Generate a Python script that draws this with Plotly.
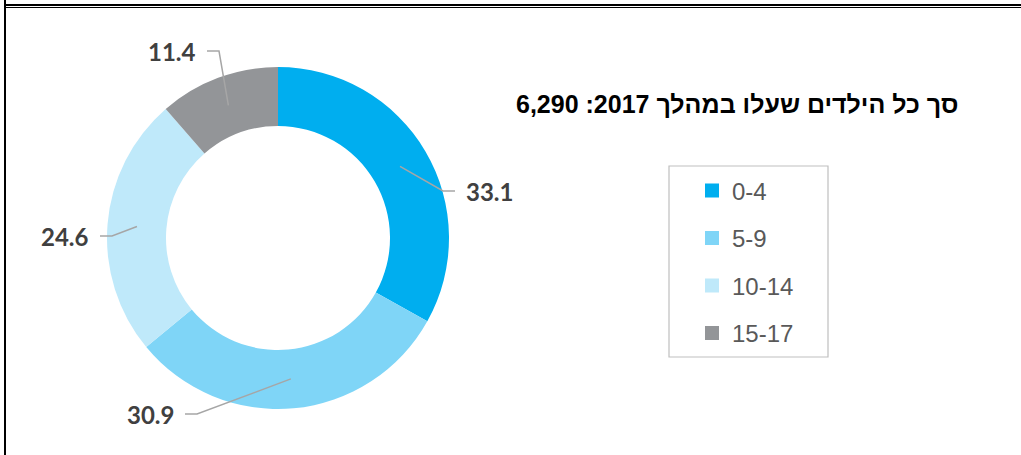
import math
import plotly.graph_objects as go

# ---------------- data ----------------
categories = ["0-4", "5-9", "10-14", "15-17"]
values = [33.1, 30.9, 24.6, 11.4]
title_text = "סך כל הילדים שעלו במהלך 2017: 6,290"

# ---------------- style / layout ----------------
colors = ["#00AEEF", "#7FD5F7", "#BFE9FA", "#939598"]
W, H = 1021, 455
CX, CY, R_OUT = 278, 238, 171          # donut centre / outer radius (px)
HOLE = 0.655
R_MID = R_OUT * (1 + HOLE) / 2

# data-label text edge anchors (px) and the side of the donut they sit on
LABEL_EDGE = [(464, 191), (176, 414), (91, 236), (198, 51)]
LABEL_SIDE = ["right", "left", "left", "left"]
GAP, SEG = 9, 12


def px(x):
    return x / W


def py(y):
    return 1 - y / H


fig = go.Figure()

fig.add_trace(go.Pie(
    labels=categories,
    values=values,
    hole=HOLE,
    sort=False,
    direction="clockwise",
    rotation=0,
    marker=dict(colors=colors, line=dict(width=0)),
    textinfo="none",
    hoverinfo="label+value",
    showlegend=False,
    domain=dict(x=[px(CX - R_OUT), px(CX + R_OUT)],
                y=[py(CY + R_OUT), py(CY - R_OUT)]),
))

# legend entries (one group per category so gaps can be set)
for cat, col in zip(categories, colors):
    fig.add_trace(go.Scatter(
        x=[None], y=[None], mode="markers", name=cat, legendgroup=cat,
        marker=dict(symbol="square", size=14, color=col),
        hoverinfo="skip",
    ))

# data labels + leader lines
total = sum(values)
cum = 0.0
shapes = []
annotations = []
for v, (ex, ey), side in zip(values, LABEL_EDGE, LABEL_SIDE):
    mid = (cum + v / 2) / total * 2 * math.pi
    cum += v
    xin = CX + R_MID * math.sin(mid)
    yin = CY - R_MID * math.cos(mid)
    sgn = -1 if side == "right" else 1
    xend = ex + sgn * GAP
    xelb = ex + sgn * (GAP + SEG)
    path = "M {} {} L {} {} L {} {}".format(
        px(xin), py(yin), px(xelb), py(ey), px(xend), py(ey))
    shapes.append(dict(type="path", xref="paper", yref="paper", path=path,
                       line=dict(color="#A6A6A6", width=1.5)))
    annotations.append(dict(
        x=px(ex), y=py(ey), xref="paper", yref="paper",
        xanchor="left" if side == "right" else "right", yanchor="middle",
        text=f"{v:.1f}", showarrow=False,
        font=dict(family="Lato", size=24, color="#404040", weight="bold"),
    ))

# title
annotations.append(dict(
    x=px(960), y=py(104), xref="paper", yref="paper",
    xanchor="right", yanchor="middle", showarrow=False,
    text="\u202B" + title_text + "\u202C",
    font=dict(family="Liberation Sans", size=25, color="#000000", weight="bold"),
))

# legend frame
shapes.append(dict(type="rect", xref="paper", yref="paper",
                   x0=px(669), x1=px(828), y0=py(357), y1=py(166),
                   line=dict(color="#BFBFBF", width=1.2)))

# outer frame lines
shapes += [
    dict(type="line", xref="paper", yref="paper", x0=px(5), x1=px(5),
         y0=0, y1=1, line=dict(color="black", width=2)),
    dict(type="line", xref="paper", yref="paper", x0=px(4), x1=1,
         y0=py(5), y1=py(5), line=dict(color="black", width=2)),
    dict(type="line", xref="paper", yref="paper", x0=px(4), x1=1,
         y0=py(7.5), y1=py(7.5), line=dict(color="black", width=1)),
]

fig.update_layout(
    width=W, height=H,
    margin=dict(l=0, r=0, t=0, b=0),
    paper_bgcolor="white", plot_bgcolor="white",
    xaxis=dict(visible=False, domain=[0.9, 1.0]),
    yaxis=dict(visible=False, domain=[0.0, 0.1]),
    shapes=shapes,
    annotations=annotations,
    showlegend=True,
    legend=dict(
        x=px(692), y=py(168.5), xanchor="left", yanchor="top",
        font=dict(family="Liberation Sans", size=24, color="#595959"),
        bgcolor="rgba(0,0,0,0)", borderwidth=0,
        traceorder="grouped", tracegroupgap=13.3, itemwidth=30,
    ),
)

fig.write_html(
    "out.html",
    config={"displayModeBar": False},
    post_script="document.body.style.margin='0';document.body.style.overflow='hidden';",
)
